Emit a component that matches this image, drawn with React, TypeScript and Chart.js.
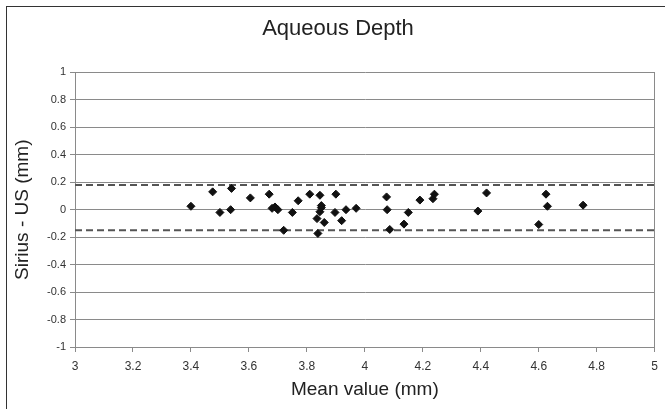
import React, { useEffect, useRef } from "react";
import { Chart, registerables } from "chart.js";

Chart.register(...registerables);

const chartTitle = "Aqueous Depth";
const xAxisTitle = "Mean value (mm)";
const yAxisTitle = "Sirius - US (mm)";

const meanValues = [
  3.40, 3.475, 3.50, 3.54, 3.537, 3.605, 3.67, 3.68, 3.69, 3.70,
  3.72, 3.75, 3.77, 3.81, 3.845, 3.85, 3.85, 3.845, 3.835, 3.86,
  3.838, 3.90, 3.897, 3.92, 3.935, 3.97, 4.075, 4.077, 4.086, 4.135,
  4.15, 4.19, 4.235, 4.24, 4.39, 4.42, 4.60, 4.625, 4.63, 4.753,
];
const differences = [
  0.025, 0.13, -0.02, 0.155, 0.0, 0.086, 0.113, 0.01, 0.02, 0.0,
  -0.15, -0.02, 0.065, 0.113, 0.105, 0.03, 0.015, -0.015, -0.065, -0.093,
  -0.173, 0.113, -0.02, -0.08, 0.0, 0.01, 0.093, 0.0, -0.144, -0.105,
  -0.02, 0.07, 0.08, 0.113, -0.01, 0.122, -0.108, 0.113, 0.025, 0.033,
];

const upperLimit = 0.18;
const lowerLimit = -0.15;

const xTickLabels = ["3", "3.2", "3.4", "3.6", "3.8", "4", "4.2", "4.4", "4.6", "4.8", "5"];
const yTickLabels = ["-1", "-0.8", "-0.6", "-0.4", "-0.2", "0", "0.2", "0.4", "0.6", "0.8", "1"];

const FONT = "'Liberation Sans', Arial, sans-serif";

export default function App() {
  const ref = useRef<HTMLCanvasElement | null>(null);

  useEffect(() => {
    if (!ref.current) return;
    const xMin = Number(xTickLabels[0]);
    const xMax = Number(xTickLabels[xTickLabels.length - 1]);
    const yMin = Number(yTickLabels[0]);
    const yMax = Number(yTickLabels[yTickLabels.length - 1]);

    const framePlugin = {
      id: "frame",
      beforeDraw(chart: any) {
        const ctx = chart.ctx;
        ctx.save();
        ctx.fillStyle = "#ffffff";
        ctx.fillRect(0, 0, chart.width, chart.height);
        ctx.strokeStyle = "#333333";
        ctx.lineWidth = 1;
        ctx.strokeRect(6.5, 6.5, chart.width + 20, chart.height + 20);
        ctx.restore();
      },
    };

    const chart = new Chart(ref.current, {
      type: "scatter",
      data: {
        datasets: [
          {
            type: "scatter",
            label: "Difference",
            data: meanValues.map((m, i) => ({ x: m, y: differences[i] })),
            pointStyle: "rectRot",
            pointRadius: 4,
            pointBorderWidth: 1,
            backgroundColor: "#111111",
            borderColor: "#111111",
            order: 1,
          },
          {
            type: "line",
            label: "Upper limit",
            data: [
              { x: xMin, y: upperLimit },
              { x: xMax, y: upperLimit },
            ],
            borderColor: "#555555",
            borderWidth: 2,
            borderDash: [7, 4],
            pointRadius: 0,
            fill: false,
            order: 2,
          },
          {
            type: "line",
            label: "Lower limit",
            data: [
              { x: xMin, y: lowerLimit },
              { x: xMax, y: lowerLimit },
            ],
            borderColor: "#555555",
            borderWidth: 2,
            borderDash: [7, 4],
            pointRadius: 0,
            fill: false,
            order: 2,
          },
        ],
      },
      options: {
        responsive: false,
        animation: false,
        layout: { padding: { left: 11, right: 0, top: 0, bottom: 0 } },
        plugins: {
          legend: { display: false },
          tooltip: { enabled: false },
          title: {
            display: true,
            text: chartTitle,
            color: "#222222",
            font: { family: FONT, size: 22, weight: "normal" },
            padding: { top: 16, bottom: 30 },
          },
        },
        scales: {
          x: {
            type: "linear",
            min: xMin,
            max: xMax,
            afterBuildTicks(scale: any) {
              scale.ticks = xTickLabels.map((v) => ({ value: Number(v) }));
            },
            afterFit(scale: any) {
              scale.height = 62;
            },
            ticks: {
              color: "#333333",
              font: { family: FONT, size: 12 },
              padding: 7,
              maxRotation: 0,
              autoSkip: false,
              callback: (_v: any, i: number) => xTickLabels[i],
            },
            grid: {
              drawOnChartArea: false,
              drawTicks: true,
              tickLength: 5,
              color: "#8a8a8a",
            },
            border: { color: "#8a8a8a" },
            title: {
              display: true,
              text: xAxisTitle,
              color: "#222222",
              font: { family: FONT, size: 19 },
              padding: { top: 0, bottom: 8 },
            },
          },
          y: {
            type: "linear",
            min: yMin,
            max: yMax,
            afterBuildTicks(scale: any) {
              scale.ticks = yTickLabels.map((v) => ({ value: Number(v) }));
            },
            afterFit(scale: any) {
              scale.width = 64;
            },
            ticks: {
              color: "#333333",
              font: { family: FONT, size: 11 },
              padding: 4,
              autoSkip: false,
              callback: (_v: any, i: number) => yTickLabels[i],
            },
            grid: {
              color: "#8a8a8a",
              drawTicks: true,
              tickLength: 5,
            },
            border: { color: "#8a8a8a" },
            title: {
              display: true,
              text: yAxisTitle,
              color: "#222222",
              font: { family: FONT, size: 19 },
              padding: { top: 0, bottom: 0 },
            },
          },
          yRight: {
            type: "linear",
            position: "right",
            min: yMin,
            max: yMax,
            afterFit(scale: any) {
              scale.width = 10;
            },
            ticks: { display: false },
            grid: { drawOnChartArea: false, drawTicks: false },
            border: { color: "#8a8a8a" },
          },
        },
      },
      plugins: [framePlugin],
    } as any);

    return () => chart.destroy();
  }, []);

  return (
    <div style={{ position: "fixed", left: 0, top: 0, width: 665, height: 409 }}>
      <canvas ref={ref} width={665} height={409} />
    </div>
  );
}
